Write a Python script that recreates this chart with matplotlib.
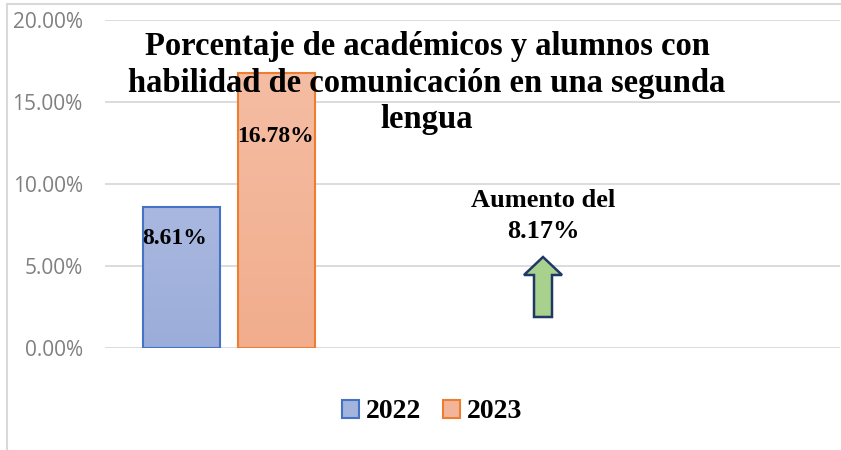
import matplotlib.pyplot as plt
import matplotlib.patches as mpatches
import matplotlib.ticker as mtick
from matplotlib.lines import Line2D
from matplotlib.colors import LinearSegmentedColormap
import numpy as np

# Data
years = ["2022", "2023"]
values = [8.61, 16.78]
value_labels = ["8.61%", "16.78%"]
increase_text = "Aumento del\n8.17%"
title_lines = ["Porcentaje de académicos y alumnos con",
               "habilidad de comunicación en una segunda",
               "lengua"]
y_ticks = [0, 5, 10, 15, 20]

# Styles
fill_top = ["#a9b8e0", "#f5bda3"]
fill_bottom = ["#9badd9", "#f1ad8d"]
fill_mid = ["#a3b4dd", "#f3b599"]
edges = ["#4472c4", "#ed7d31"]
serif = "Liberation Serif"

W, H = 841, 450
fig = plt.figure(figsize=(W / 100, H / 100), dpi=100)
ax = fig.add_axes([105 / W, 1 - 348 / H, 735 / W, 328 / H])

x = np.arange(len(years))
width = 0.81

# gradient fills
for i in range(len(years)):
    cmap = LinearSegmentedColormap.from_list(f"g{i}", [fill_bottom[i], fill_top[i]])
    grad = np.linspace(0, 1, 100).reshape(-1, 1)
    ax.imshow(grad, cmap=cmap, origin="lower", aspect="auto",
              extent=[x[i] - width / 2, x[i] + width / 2, 0, values[i]],
              zorder=2)

ax.bar(x, values, width, facecolor="none", edgecolor=edges,
       linewidth=1.5, zorder=3)

ax.set_xlim(-0.805, 6.93)
ax.set_ylim(0, 20)
ax.set_yticks(y_ticks)
ax.yaxis.set_major_formatter(mtick.FuncFormatter(lambda v, p: f"{v:.2f}%"))
ax.tick_params(axis="y", length=0, pad=16, labelsize=15, labelcolor="#808080")
for lab in ax.get_yticklabels():
    lab.set_family("Open Sans")
ax.set_xticks([])
ax.yaxis.grid(True, color="#d9d9d9", linewidth=1.3)
ax.set_axisbelow(True)
for s in ax.spines.values():
    s.set_visible(False)

# value labels (moved by hand in the original)
label_x = [-0.07, 0.985]
label_y = [6.65, 12.87]
for i in range(len(years)):
    ax.text(label_x[i], label_y[i], value_labels[i], ha="center", va="center",
            fontsize=17, fontweight="bold", family=serif, zorder=4)

# chart frame
fig.add_artist(Line2D([7 / W, 7 / W], [0, 1 - 4 / H], color="#d9d9d9", lw=1.5))
fig.add_artist(Line2D([7 / W, 1], [1 - 4 / H, 1 - 4 / H], color="#d9d9d9", lw=1.5))

# title, one line at a time
title_baselines = [55, 92, 128]
for line, base in zip(title_lines, title_baselines):
    fig.text(427 / W, 1 - base / H, line, ha="center", va="baseline",
             fontsize=23.5, fontweight="bold", family=serif)

# increase note + arrow
fig.text(543 / W, 1 - 216 / H, increase_text, ha="center", va="center",
         fontsize=19, fontweight="bold", family=serif, linespacing=1.45)
arrow_px = [(543, 257), (562, 275), (552, 275), (552, 317),
            (534, 317), (534, 275), (524, 275)]
arrow = mpatches.Polygon([(px / W, 1 - py / H) for px, py in arrow_px],
                         closed=True, facecolor="#a9d18e", edgecolor="#1f3864",
                         linewidth=1.8, transform=fig.transFigure)
fig.add_artist(arrow)

# legend
handles = [mpatches.Patch(facecolor=fill_mid[i], edgecolor=edges[i], linewidth=1.5)
           for i in range(len(years))]
fig.legend(handles, years, loc="center", bbox_to_anchor=(432 / W, 1 - 412 / H),
           ncol=2, frameon=False,
           prop=dict(family=serif, weight="bold", size=20),
           handlelength=0.6, handleheight=0.6, handletextpad=0.25,
           columnspacing=0.8)

plt.savefig("out.png", dpi=100)
